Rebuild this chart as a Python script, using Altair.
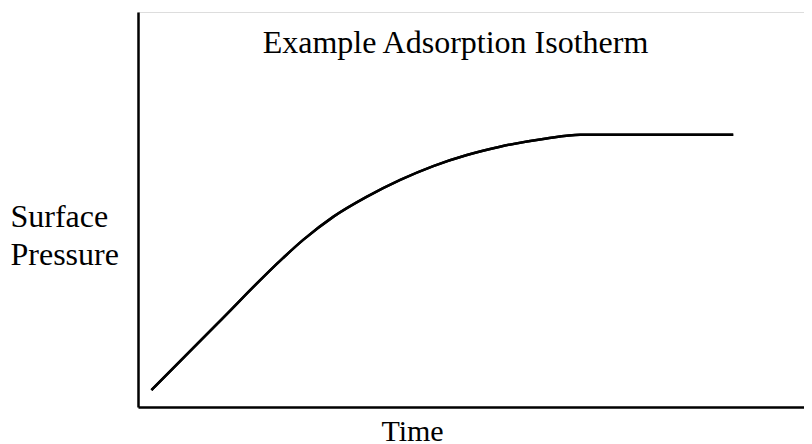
import altair as alt
import pandas as pd

# Data (arbitrary units: time, surface pressure 0-100)
time = [2.0, 11.7, 21.5, 24.5, 29.0, 33.9, 38.9, 43.8, 48.8, 53.7, 60.6, 65.6, 68.5, 88.3]
pressure = [4.3, 21.0, 37.7, 42.3, 48.2, 53.2, 57.5, 61.0, 63.8, 65.9, 68.0, 68.9, 68.9, 68.9]

df = pd.DataFrame({"Time": time, "Pressure": pressure})

FONT = "Liberation Serif"
x_scale = alt.Scale(domain=[0, 98.8], nice=False, zero=False)
y_scale = alt.Scale(domain=[0, 100], nice=False, zero=False)

curve = alt.Chart(df).mark_line(
    color="black", strokeWidth=2.5, interpolate="monotone"
).encode(
    x=alt.X(
        "Time:Q",
        scale=x_scale,
        axis=alt.Axis(
            title="Time",
            titleFont=FONT,
            titleFontSize=30,
            titleFontWeight="normal",
            titleColor="black",
            titleAlign="center",
            titleAnchor="start",
            titleX=274,
            titleY=33,
            titleBaseline="alphabetic",
            labels=False,
            ticks=False,
            grid=False,
            domainColor="black",
            domainWidth=2.5,
        ),
    ),
    y=alt.Y(
        "Pressure:Q",
        scale=y_scale,
        axis=alt.Axis(
            title=["Surface", "Pressure"],
            titleFont=FONT,
            titleFontSize=32,
            titleFontWeight="normal",
            titleColor="black",
            titleAngle=0,
            titleAlign="left",
            titleAnchor="start",
            titleX=-128,
            titleY=214,
            titleBaseline="alphabetic",
            titleLineHeight=38,
            labels=False,
            ticks=False,
            grid=False,
            domainColor="black",
            domainWidth=2.5,
        ),
    ),
)

# same curve again, carrying a top axis whose title is the chart heading
heading = alt.Chart(df).mark_line(
    color="black", strokeWidth=2.5, interpolate="monotone"
).encode(
    x=alt.X(
        "Time:Q",
        scale=x_scale,
        axis=alt.Axis(
            orient="top",
            title="Example Adsorption Isotherm",
            titleFont=FONT,
            titleFontSize=32,
            titleFontWeight="normal",
            titleColor="black",
            titleAlign="center",
            titleAnchor="start",
            titleX=317,
            titleY=40,
            titleBaseline="alphabetic",
            labels=False,
            ticks=False,
            grid=False,
            domain=False,
        ),
    ),
    y=alt.Y("Pressure:Q", scale=y_scale, axis=None),
)

chart = alt.layer(curve, heading).resolve_axis(
    x="independent", y="independent"
).properties(
    width=666,
    height=395,
    autosize=alt.AutoSizeParams(type="none"),
    padding={"left": 130, "top": 4, "right": 0, "bottom": 37},
).configure_view(stroke="transparent", strokeWidth=0).configure(background="white")

chart.save("out.html", embed_options={"renderer": "svg", "actions": False})
